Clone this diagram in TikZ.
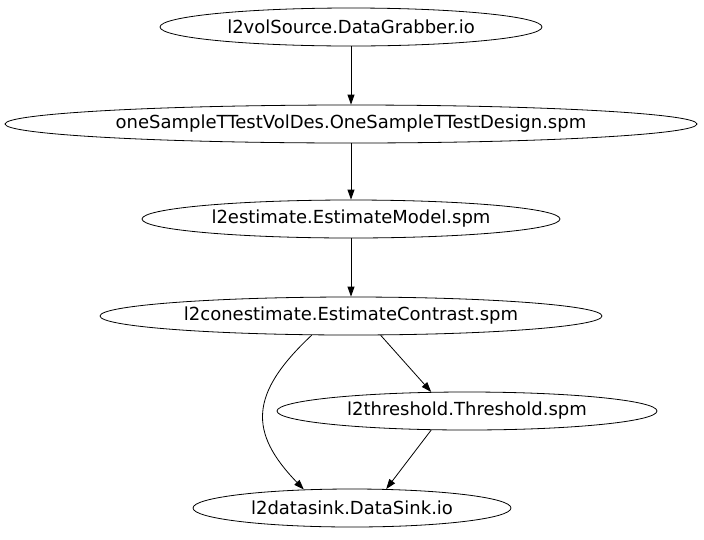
\documentclass[tikz,border=0pt]{standalone}
\usepackage{fontspec}
\setmainfont{DejaVu Sans}
\usetikzlibrary{shapes.geometric,arrows.meta}

\tikzset{
  job/.style={draw, ellipse, line width=0.8pt, inner sep=0pt, minimum height=38pt, font=\fontsize{18}{20}\selectfont},
  flow/.style={-{Triangle[length=10pt,width=7pt]}, line width=0.8pt}
}

\begin{document}
\begin{tikzpicture}[x=1pt,y=-1pt]
\useasboundingbox (0,0) rectangle (704,539);

\node[job, minimum width=382pt] (src) at (351,27) {l2volSource.DataGrabber.io};
\node[job, minimum width=692pt] (des) at (351,124) {oneSampleTTestVolDes.OneSampleTTestDesign.spm};
\node[job, minimum width=418pt] (est) at (351,219) {l2estimate.EstimateModel.spm};
\node[job, minimum width=502pt] (con) at (351,316) {l2conestimate.EstimateContrast.spm};
\node[job, minimum width=380pt] (thr) at (467,411) {l2threshold.Threshold.spm};
\node[job, minimum width=318pt] (sink) at (352,508) {l2datasink.DataSink.io};

\draw[flow] (src) -- (des);
\draw[flow] (des) -- (est);
\draw[flow] (est) -- (con);
\draw[flow] (con.-33) -- (thr.152);
\draw[flow] (con.-154) .. controls +(-63,59) and +(-55,-57) .. (sink.159);
\draw[flow] (thr.-152) -- (sink.29);
\end{tikzpicture}
\end{document}
